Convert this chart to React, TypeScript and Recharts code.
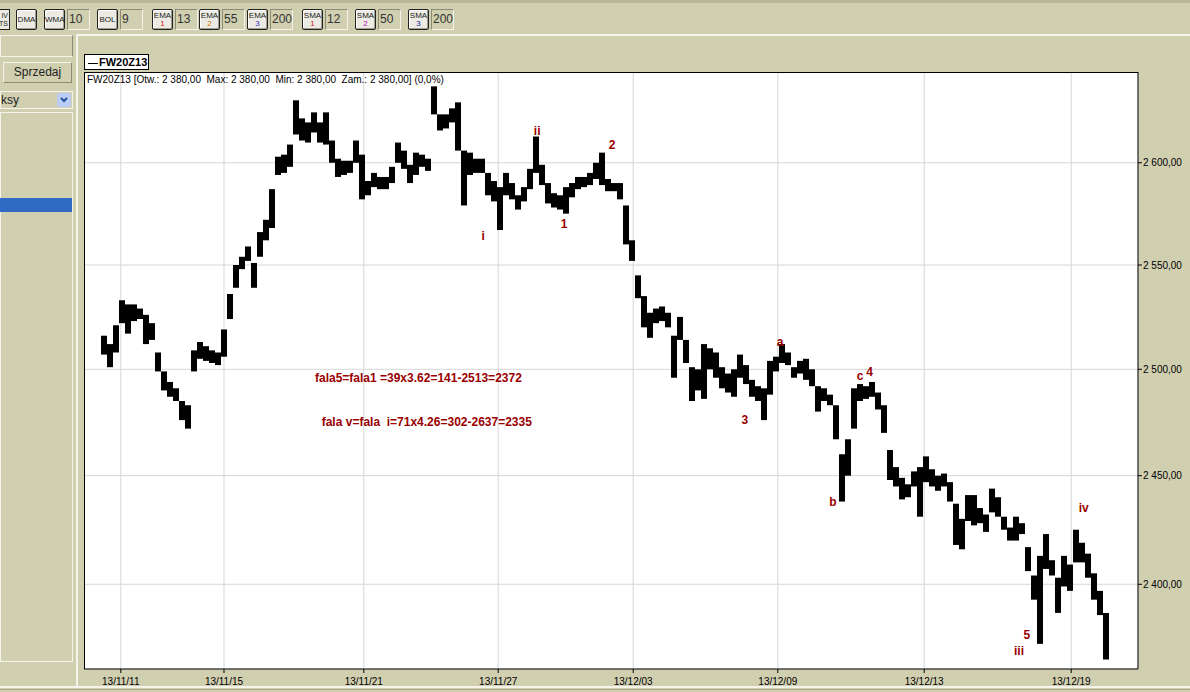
import React from "react"
import { ComposedChart, Bar, XAxis, YAxis, CartesianGrid, ReferenceDot } from "recharts"

// FW20Z13 intraday bars (one bar per ~6px slot)
const lows = [
  2507, 2501, 2508, 2522, 2517, 2523, 2524, 2512, 2514, 2499,
  2490, 2487, 2485, 2476, 2472, 2499, 2505, 2504, 2503, 2502,
  2506, 2524, 2539, 2548, 2552, 2539, 2554, 2562, 2568, 2594,
  2595, 2598, 2614, 2611, 2610, 2615, 2610, 2609, 2600, 2593,
  2594, 2595, 2600, 2582, 2584, 2588, 2587, 2587, 2590, 2600,
  2597, 2590, 2594, 2598, 2596, 2624, 2616, 2617, 2620, 2606,
  2579, 2594, 2595, 2595, 2584, 2581, 2567, 2584, 2582, 2577,
  2581, 2587, 2595, 2589, 2580, 2578, 2577, 2575, 2583, 2587,
  2588, 2589, 2592, 2589, 2586, 2586, 2582, 2560, 2552, 2534,
  2520, 2515, 2522, 2523, 2520, 2496, 2514, 2503, 2485, 2490,
  2486, 2500, 2496, 2491, 2489, 2487, 2496, 2493, 2487, 2485,
  2476, 2488, 2499, 2503, 2502, 2496, 2498, 2495, 2492, 2480,
  2485, 2483, 2467, 2438, 2450, 2472, 2485, 2486, 2487, 2481,
  2470, 2448, 2445, 2439, 2440, 2445, 2431, 2447, 2445, 2443,
  2445, 2438, 2418, 2416, 2429, 2427, 2428, 2424, 2433, 2431,
  2425, 2420, 2420, 2423, 2406, 2393, 2373, 2407, 2404, 2387,
  2399, 2397, 2410, 2410, 2403, 2393, 2386, 2366,
]

const highs = [
  2516, 2512, 2521, 2533, 2531, 2531, 2529, 2526, 2522, 2508,
  2499, 2494, 2491, 2485, 2483, 2509, 2513, 2511, 2509, 2508,
  2519, 2536, 2550, 2554, 2559, 2551, 2566, 2572, 2587, 2603,
  2604, 2609, 2631, 2622, 2620, 2625, 2620, 2625, 2611, 2602,
  2601, 2601, 2611, 2604, 2591, 2595, 2593, 2593, 2598, 2610,
  2606, 2599, 2605, 2604, 2602, 2638, 2624, 2624, 2627, 2630,
  2606, 2605, 2602, 2602, 2595, 2591, 2588, 2595, 2590, 2584,
  2588, 2597, 2613, 2599, 2590, 2585, 2584, 2588, 2590, 2593,
  2593, 2595, 2600, 2605, 2592, 2590, 2590, 2579, 2562, 2545,
  2535, 2527, 2529, 2530, 2527, 2516, 2525, 2514, 2501, 2500,
  2512, 2510, 2508, 2501, 2498, 2500, 2507, 2502, 2495, 2492,
  2491, 2504, 2506, 2512, 2508, 2501, 2504, 2505, 2500, 2492,
  2491, 2488, 2483, 2460, 2467, 2491, 2493, 2492, 2494, 2489,
  2483, 2462, 2454, 2449, 2446, 2452, 2454, 2459, 2453, 2450,
  2451, 2447, 2437, 2430, 2441, 2441, 2435, 2432, 2444, 2440,
  2431, 2426, 2431, 2428, 2417, 2404, 2413, 2423, 2411, 2403,
  2413, 2409, 2425, 2419, 2414, 2405, 2397, 2387,
]

const dateTicks = [2.8, 20, 43.3, 65.7, 88.2, 112.3, 136.7, 161.2]
const dateLabels = ["13/11/11", "13/11/15", "13/11/21", "13/11/27", "13/12/03", "13/12/09", "13/12/13", "13/12/19"]
const priceTicks = [2400, 2450, 2500, 2550, 2600]

// Elliott wave marks
const waveText = ["ii", "2", "i", "1", "a", "3", "c", "4", "b", "iv", "5", "iii"]
const waveBar = [72.2, 84.7, 63.2, 76.7, 112.7, 106.8, 126.0, 127.6, 121.5, 163.3, 153.8, 152.5]
const wavePrice = [2616, 2609, 2564, 2570, 2513, 2476, 2497, 2499, 2438, 2435, 2377, 2370]

const noteText = ["fala5=fala1 =39x3.62=141-2513=2372", "fala v=fala\u00a0 i=71x4.26=302-2637=2335"]
const noteBar = [52.4, 53.8]
const notePrice = [2496, 2475]

const rows = lows.map((lo, i) => ({ i, range: [lo, highs[i]] }))

const BEIGE = "#d0cfb0"
const RED = "#990000"
const FONT = "'Liberation Sans', Arial, sans-serif"

const fmtPrice = (v: number) => `${Math.floor(v / 1000)}\u00a0${String(v % 1000).padStart(3, "0")},00`

const toolbar = [
  { x: 16, top: "DMA" },
  { x: 44, top: "WMA", val: "10" },
  { x: 97, top: "BOL", val: "9" },
  { x: 152, top: "EMA", sub: "1", subColor: "#d02020", val: "13" },
  { x: 199, top: "EMA", sub: "2", subColor: "#e07000", val: "55" },
  { x: 247, top: "EMA", sub: "3", subColor: "#3030d0", val: "200" },
  { x: 302, top: "SMA", sub: "1", subColor: "#d02020", val: "12" },
  { x: 355, top: "SMA", sub: "2", subColor: "#c000c0", val: "50" },
  { x: 408, top: "SMA", sub: "3", subColor: "#202090", val: "200" },
]

function ToolButton({ x, top, sub, subColor }: { x: number; top: string; sub?: string; subColor?: string }) {
  return (
    <div
      style={{
        position: "absolute",
        left: x,
        top: 9,
        width: 21,
        height: 21,
        boxSizing: "border-box",
        background: "#ecebe3",
        border: "1px solid #222",
        borderRadius: 2,
        boxShadow: "inset -1px -1px 0 #a09f90, inset 1px 1px 0 #fff",
        fontSize: 8,
        lineHeight: sub ? "8px" : "19px",
        textAlign: "center",
        color: "#222",
        paddingTop: sub ? 2 : 0,
      }}
    >
      {top}
      {sub && <div style={{ color: subColor, fontSize: 8 }}>{sub}</div>}
    </div>
  )
}

function ToolInput({ x, val }: { x: number; val: string }) {
  return (
    <div
      style={{
        position: "absolute",
        left: x,
        top: 9,
        width: 23,
        height: 21,
        boxSizing: "border-box",
        borderTop: "1px solid #8c8b78",
        borderLeft: "1px solid #8c8b78",
        borderBottom: "1px solid #f2f2e8",
        borderRight: "1px solid #f2f2e8",
        fontSize: 12,
        lineHeight: "19px",
        paddingLeft: 1,
        color: "#333",
      }}
    >
      {val}
    </div>
  )
}

export default function App() {
  return (
    <div
      style={{
        position: "absolute",
        left: 0,
        top: 0,
        width: 1190,
        height: 692,
        background: BEIGE,
        overflow: "hidden",
        fontFamily: FONT,
      }}
    >
      {/* toolbar */}
      <div style={{ position: "absolute", left: 0, top: 0, width: 1190, height: 3, background: "#b9b89c" }} />
      <div
        style={{
          position: "absolute", left: -11, top: 9, width: 21, height: 21, boxSizing: "border-box",
          background: "#ecebe3", border: "1px solid #222", fontSize: 7, lineHeight: "8px",
          textAlign: "right", paddingTop: 2, paddingRight: 1, color: "#222",
        }}
      >
        IV<br />TS
      </div>
      {toolbar.map((t) => (
        <React.Fragment key={t.x}>
          <ToolButton x={t.x} top={t.top} sub={t.sub} subColor={t.subColor} />
          {t.val && <ToolInput x={t.x + 23} val={t.val} />}
        </React.Fragment>
      ))}

      {/* left panel */}
      <div style={{ position: "absolute", left: 0, top: 35, width: 73, height: 22, boxSizing: "border-box", border: "1px solid #f4f4ea", borderRightColor: "#8c8b78" }} />
      <div
        style={{
          position: "absolute", left: 3, top: 62, width: 69, height: 21, boxSizing: "border-box",
          border: "1px solid #f4f4ea", borderRightColor: "#8c8b78", borderBottomColor: "#8c8b78",
          fontSize: 12, lineHeight: "19px", textAlign: "center", color: "#222",
        }}
      >
        Sprzedaj
      </div>
      <div
        style={{
          position: "absolute", left: 0, top: 91, width: 73, height: 18, boxSizing: "border-box",
          border: "1px solid #f4f4ea", fontSize: 12, lineHeight: "16px", color: "#222",
        }}
      >
        ksy
        <div style={{ position: "absolute", right: 1, top: 1, width: 14, height: 14, background: "#bccdf5", borderRadius: 2 }}>
          <svg width={14} height={14}>
            <path d="M4 5 L7 8 L10 5" stroke="#2a4fa0" strokeWidth={2} fill="none" />
          </svg>
        </div>
      </div>
      <div style={{ position: "absolute", left: 0, top: 112, width: 73, height: 550, boxSizing: "border-box", border: "1px solid #f4f4ea" }} />
      <div style={{ position: "absolute", left: 0, top: 198, width: 72, height: 14, background: "#316ac5" }} />

      {/* chart frame */}
      <div style={{ position: "absolute", left: 76, top: 34, width: 1114, height: 652, boxSizing: "border-box", borderLeft: "2px solid #f4f4ea", borderTop: "2px solid #f4f4ea" }} />
      <div style={{ position: "absolute", left: 0, top: 686, width: 1190, height: 2, background: "#f4f4ea" }} />
      <div style={{ position: "absolute", left: 0, top: 689, width: 1190, height: 1, background: "#a8a792" }} />

      {/* legend box */}
      <div
        style={{
          position: "absolute", left: 84, top: 54, width: 65, height: 16, boxSizing: "border-box",
          background: "#fff", border: "1px solid #000", fontSize: 11, fontWeight: "bold", lineHeight: "14px",
        }}
      >
        <span style={{ display: "inline-block", width: 10, height: 1, background: "#000", verticalAlign: "middle", margin: "0 1px 0 3px" }} />
        FW20Z13
      </div>

      {/* chart */}
      <div style={{ position: "absolute", left: 84, top: 72 }}>
        <ComposedChart width={1106} height={620} data={rows} margin={{ top: 0, right: 0, bottom: 0, left: 0 }}>
          <CartesianGrid stroke="#d6d6d6" fill="#fff" />
          <XAxis
            type="number"
            dataKey="i"
            domain={[-3.333, 172.333]}
            allowDataOverflow
            ticks={dateTicks}
            tickFormatter={(v: number) => dateLabels[dateTicks.indexOf(v)]}
            height={23}
            tickSize={4}
            tickMargin={5}
            axisLine={{ stroke: "#000" }}
            tickLine={{ stroke: "#000" }}
            tick={{ fill: "#000", fontSize: 10 }}
          />
          <YAxis
            orientation="right"
            scale="log"
            domain={[2361.7, 2645.2]}
            allowDataOverflow
            ticks={priceTicks}
            tickFormatter={fmtPrice}
            width={52}
            tickSize={4}
            tickMargin={1}
            axisLine={{ stroke: "#000" }}
            tickLine={{ stroke: "#000" }}
            tick={{ fill: "#000", fontSize: 10 }}
          />
          <Bar dataKey="range" fill="#000" barSize={6} isAnimationActive={false} />
          {waveText.map((t, k) => (
            <ReferenceDot
              key={"w" + k}
              x={waveBar[k]}
              y={wavePrice[k]}
              r={0}
              fill="none"
              stroke="none"
              label={{ value: t, position: "center", fill: RED, fontSize: 12, fontWeight: "bold" }}
            />
          ))}
          {noteText.map((t, k) => (
            <ReferenceDot
              key={"n" + k}
              x={noteBar[k]}
              y={notePrice[k]}
              r={0}
              fill="none"
              stroke="none"
              label={{ value: t, position: "center", fill: RED, fontSize: 12, fontWeight: "bold" }}
            />
          ))}
        </ComposedChart>
      </div>

      {/* plot border + info line */}
      <div style={{ position: "absolute", left: 84, top: 72, width: 1054, height: 597, boxSizing: "border-box", borderLeft: "1px solid #000", borderTop: "1px solid #000", pointerEvents: "none" }} />
      <div style={{ position: "absolute", left: 87, top: 74, fontSize: 10, whiteSpace: "pre", color: "#000" }}>
        {"FW20Z13 [Otw.: 2 380,00  Max: 2 380,00  Min: 2 380,00  Zam.: 2 380,00] (0,0%)"}
      </div>
    </div>
  )
}
